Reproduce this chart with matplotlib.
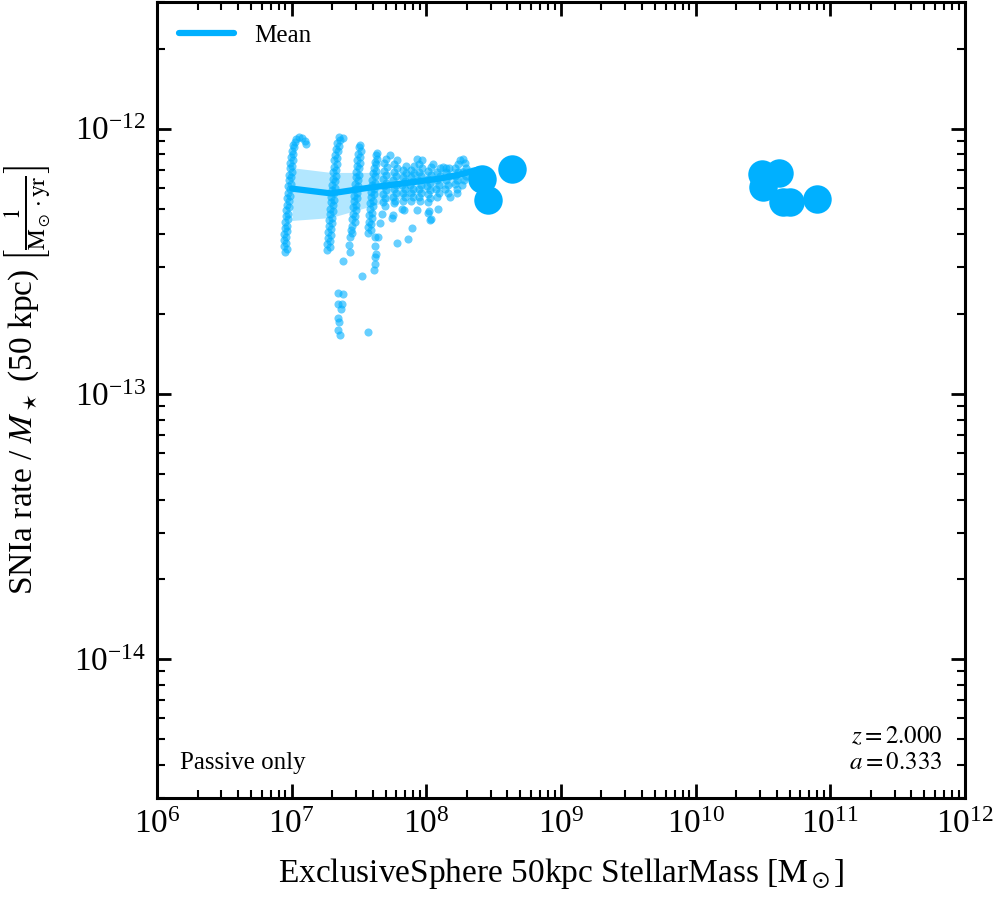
import numpy as np
import matplotlib
matplotlib.use('Agg')
import matplotlib.pyplot as plt

plt.rcParams['font.family'] = 'serif'
plt.rcParams['font.serif'] = ['Liberation Serif', 'DejaVu Serif']
plt.rcParams['mathtext.fontset'] = 'stix'

col = '#00B0FF'

# log10 stellar mass [Msun], log10 SNIa rate per unit mass [1/(Msun yr)] -- small galaxies
col1 = [(6.951, -12.466), (6.965, -12.455), (6.943, -12.444), (6.958, -12.432), (6.943, -12.421),
        (6.958, -12.410), (6.943, -12.398), (6.965, -12.387), (6.951, -12.376), (6.965, -12.365),
        (6.951, -12.353), (6.973, -12.342), (6.958, -12.331), (6.973, -12.320), (6.958, -12.308),
        (6.980, -12.297), (6.965, -12.286), (6.980, -12.274), (6.965, -12.263), (6.988, -12.252),
        (6.973, -12.241), (6.988, -12.229), (6.973, -12.218), (6.995, -12.207), (6.980, -12.195),
        (6.995, -12.184), (6.980, -12.173), (7.003, -12.162), (6.988, -12.150), (7.003, -12.139),
        (6.988, -12.128), (7.010, -12.117), (6.995, -12.105), (7.010, -12.094), (7.003, -12.083),
        (7.017, -12.071), (7.010, -12.060), (7.025, -12.049), (7.032, -12.038), (7.054, -12.030),
        (7.077, -12.034), (7.099, -12.045), (7.106, -12.056)]
col2 = [(7.262, -12.459), (7.285, -12.447), (7.262, -12.436), (7.285, -12.425), (7.270, -12.413),
        (7.292, -12.402), (7.270, -12.391), (7.292, -12.380), (7.277, -12.368), (7.300, -12.357),
        (7.277, -12.346), (7.300, -12.335), (7.285, -12.323), (7.307, -12.312), (7.285, -12.301),
        (7.307, -12.289), (7.292, -12.278), (7.314, -12.267), (7.292, -12.256), (7.314, -12.244),
        (7.300, -12.233), (7.322, -12.222), (7.300, -12.211), (7.322, -12.199), (7.307, -12.188),
        (7.329, -12.177), (7.307, -12.165), (7.329, -12.154), (7.314, -12.143), (7.337, -12.132),
        (7.314, -12.120), (7.337, -12.109), (7.322, -12.098), (7.344, -12.086), (7.329, -12.075),
        (7.351, -12.064), (7.337, -12.053), (7.359, -12.041), (7.351, -12.030), (7.381, -12.034),
        (7.344, -12.620), (7.381, -12.624), (7.344, -12.662), (7.374, -12.662), (7.366, -12.680),
        (7.344, -12.714), (7.351, -12.729), (7.344, -12.759), (7.359, -12.778)]
col3 = [(7.448, -12.365), (7.470, -12.353), (7.448, -12.342), (7.470, -12.331), (7.455, -12.320),
        (7.478, -12.308), (7.455, -12.297), (7.478, -12.286), (7.463, -12.274), (7.485, -12.263),
        (7.463, -12.252), (7.485, -12.241), (7.470, -12.229), (7.493, -12.218), (7.470, -12.207),
        (7.493, -12.195), (7.478, -12.184), (7.500, -12.173), (7.478, -12.162), (7.500, -12.150),
        (7.485, -12.139), (7.507, -12.128), (7.485, -12.117), (7.507, -12.105), (7.493, -12.094),
        (7.515, -12.083), (7.500, -12.071), (7.507, -12.060), (7.441, -12.383), (7.448, -12.395),
        (7.433, -12.410), (7.426, -12.440), (7.433, -12.466), (7.381, -12.500)]
col4 = [(7.567, -12.395), (7.589, -12.383), (7.567, -12.372), (7.589, -12.361), (7.574, -12.350),
        (7.597, -12.338), (7.574, -12.327), (7.597, -12.316), (7.582, -12.304), (7.604, -12.293),
        (7.582, -12.282), (7.604, -12.271), (7.589, -12.259), (7.611, -12.248), (7.589, -12.237),
        (7.611, -12.226), (7.597, -12.214), (7.619, -12.203), (7.597, -12.192), (7.619, -12.180),
        (7.604, -12.169), (7.626, -12.158), (7.611, -12.147), (7.626, -12.135), (7.619, -12.124),
        (7.634, -12.113), (7.626, -12.101), (7.634, -12.090), (7.619, -12.410), (7.619, -12.444),
        (7.626, -12.474), (7.619, -12.485), (7.619, -12.511), (7.611, -12.534), (7.522, -12.556),
        (7.567, -12.767)]
col5 = [(7.700, -12.113), (7.686, -12.128), (7.708, -12.143), (7.686, -12.158), (7.700, -12.173),
        (7.678, -12.188), (7.700, -12.203), (7.686, -12.218), (7.700, -12.233), (7.678, -12.248),
        (7.693, -12.263), (7.678, -12.278), (7.693, -12.293), (7.671, -12.320), (7.656, -12.357),
        (7.641, -12.410), (7.730, -12.101)]
col6 = [(7.782, -12.120), (7.760, -12.135), (7.782, -12.150), (7.760, -12.165), (7.775, -12.180),
        (7.753, -12.195), (7.775, -12.211), (7.760, -12.226), (7.775, -12.241), (7.753, -12.256),
        (7.767, -12.271), (7.760, -12.282), (7.753, -12.327), (7.745, -12.338), (7.782, -12.432)]
col7 = [(7.849, -12.139), (7.827, -12.154), (7.849, -12.169), (7.827, -12.184), (7.842, -12.199),
        (7.819, -12.214), (7.842, -12.229), (7.827, -12.244), (7.842, -12.259), (7.827, -12.274),
        (7.819, -12.301), (7.834, -12.308)]
col8 = [(7.908, -12.139), (7.886, -12.154), (7.908, -12.169), (7.886, -12.184), (7.901, -12.199),
        (7.879, -12.214), (7.901, -12.229), (7.886, -12.244), (7.901, -12.259), (7.886, -12.271),
        (7.931, -12.113), (7.931, -12.308), (7.894, -12.376), (7.864, -12.417)]
col9 = [(7.968, -12.120), (7.946, -12.135), (7.968, -12.150), (7.946, -12.165), (7.961, -12.180),
        (7.938, -12.195), (7.961, -12.211), (7.946, -12.226), (7.961, -12.241), (7.946, -12.256),
        (7.953, -12.271), (8.012, -12.316), (8.027, -12.346)]
col10 = [(8.035, -12.143), (8.012, -12.158), (8.035, -12.173), (8.012, -12.188), (8.027, -12.203),
         (8.005, -12.218), (8.027, -12.233), (8.012, -12.248), (8.027, -12.263), (8.012, -12.278),
         (8.050, -12.132), (8.087, -12.301), (8.020, -12.312), (8.035, -12.342)]
col11 = [(8.102, -12.150), (8.079, -12.165), (8.102, -12.180), (8.079, -12.195), (8.094, -12.211),
         (8.072, -12.226), (8.094, -12.241), (8.079, -12.256), (8.124, -12.143)]
col12 = [(8.168, -12.150), (8.146, -12.165), (8.168, -12.180), (8.146, -12.195), (8.161, -12.211),
         (8.139, -12.226), (8.161, -12.241), (8.176, -12.259), (8.146, -12.147)]
col13 = [(8.235, -12.132), (8.213, -12.147), (8.235, -12.162), (8.213, -12.177), (8.228, -12.192),
         (8.213, -12.207), (8.228, -12.226), (8.250, -12.120), (8.228, -12.241)]
col14 = [(8.272, -12.113), (8.287, -12.128), (8.295, -12.150), (8.272, -12.165), (8.295, -12.180),
         (8.280, -12.195), (8.265, -12.214)]

# massive galaxies (drawn as big markers)
big_logm = [8.411, 8.460, 8.639, 10.491, 10.621, 10.502, 10.651, 10.701, 10.899]
big_logr = [-12.189, -12.268, -12.151, -12.170, -12.168, -12.221, -12.277, -12.277, -12.264]

# binned mean and scatter
mean_logm = [7.003, 7.292, 7.582, 7.879, 8.102, 8.250, 8.384]
mean_logr = [-12.226, -12.244, -12.222, -12.203, -12.188, -12.173, -12.154]
band_hi = [-12.147, -12.165, -12.165, -12.162, -12.158, -12.147, -12.143]
band_lo = [-12.346, -12.335, -12.293, -12.252, -12.229, -12.207, -12.180]

pts = np.array(col1 + col2 + col3 + col4 + col5 + col6 + col7 + col8 + col9 +
               col10 + col11 + col12 + col13 + col14)
mass = 10 ** pts[:, 0]
rate = 10 ** pts[:, 1]

fig = plt.figure(figsize=(9.96, 9.0), dpi=100)
ax = fig.add_axes([0.1576, 0.1133, 0.8112, 0.8844])

ax.fill_between(10 ** np.array(mean_logm), 10 ** np.array(band_lo), 10 ** np.array(band_hi),
                color=col, alpha=0.3, lw=0, zorder=1)
ax.scatter(mass, rate, s=34, color=col, alpha=0.6, linewidths=0, zorder=2)
ax.plot(10 ** np.array(mean_logm), 10 ** np.array(mean_logr), color=col, lw=4.5,
        solid_capstyle='round', label='Mean', zorder=3)
ax.scatter(10 ** np.array(big_logm), 10 ** np.array(big_logr), s=420, color=col,
           linewidths=0, zorder=4)

ax.set_xscale('log')
ax.set_yscale('log')
ax.set_xlim(1e6, 1e12)
ax.set_ylim(3e-15, 3e-12)

ax.set_xlabel(r'ExclusiveSphere 50kpc StellarMass [$\mathrm{M}_\odot$]', fontsize=24, labelpad=12)
ax.set_ylabel(r'SNIa rate / $M_\star$ (50 kpc) $\left[\frac{1}{\mathrm{M}_\odot \cdot \mathrm{yr}}\right]$',
              fontsize=24)
ax.yaxis.set_label_coords(-0.128, 0.526)

for s in ax.spines.values():
    s.set_linewidth(2.2)
ax.tick_params(which='both', direction='in', top=True, right=True)
ax.tick_params(which='major', length=10, width=2, labelsize=24, pad=8)
ax.tick_params(which='minor', length=5.5, width=1.5)

ax.legend(loc='upper left', frameon=False, fontsize=18, handlelength=2.2)
ax.text(0.028, 0.03, 'Passive only', transform=ax.transAxes, fontsize=18, ha='left', va='bottom')
ax.text(0.972, 0.03, '$z = 2.000$\n$a = 0.333$', transform=ax.transAxes, fontsize=18,
        ha='right', va='bottom', linespacing=1.25)

fig.savefig('out.png', dpi=100)
